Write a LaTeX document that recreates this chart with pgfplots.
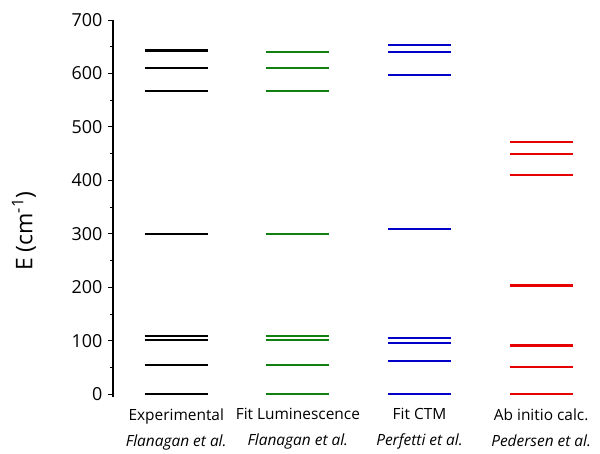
\documentclass[border=0pt]{standalone}
\usepackage{fontspec}
\setmainfont{Open Sans}
\usepackage{pgfplots}
\pgfplotsset{compat=1.18}
\definecolor{cblack}{RGB}{0,0,0}
\definecolor{cgreen}{RGB}{16,128,16}
\definecolor{cblue}{RGB}{0,0,200}
\definecolor{cred}{RGB}{230,0,0}
\begin{document}
\begin{tikzpicture}
\begin{axis}[
  scale only axis,
  width=487bp, height=377bp,
  xmin=0.48, xmax=4.484,
  ymin=-5, ymax=700,
  axis lines=left,
  axis line style={-, line width=1.3pt},
  x axis line style={draw=none},
  xtick={1,2,3,4},
  xticklabels={{Experimental\\\textit{Flanagan et al.}},{Fit Luminescence\\\textit{Flanagan et al.}},{Fit CTM\\\textit{Perfetti et al.}},{Ab initio calc.\\\textit{Pedersen et al.}}},
  xtick style={draw=none},
  xticklabel style={align=center, font=\fontsize{15.5}{26}\selectfont, yshift=-3bp},
  ytick={0,100,...,700},
  minor ytick={50,150,...,650},
  tick align=outside,
  major tick length=5bp, minor tick length=3bp,
  ytick style={line width=1pt, black},
  yticklabel style={font=\fontsize{18}{20}\selectfont, xshift=-2bp},
  /pgf/number format/assume math mode=true,
  ylabel={E (cm\textsuperscript{-1})},
  every axis y label/.style={at={(axis description cs:0,0.44)}, xshift=-89bp, rotate=90, anchor=center, font=\fontsize{23}{26}\selectfont},
  unbounded coords=jump,
  clip=false,
]
\addplot[cblack, line width=2pt] coordinates {
(0.74,0) (1.26,0) (1,nan)
(0.74,54) (1.26,54) (1,nan)
(0.74,102) (1.26,102) (1,nan)
(0.74,110) (1.26,110) (1,nan)
(0.74,299) (1.26,299) (1,nan)
(0.74,568) (1.26,568) (1,nan)
(0.74,610) (1.26,610)
};
\addplot[cblack, line width=2.8pt] coordinates {(0.74,643) (1.26,643)};
\addplot[cgreen, line width=2pt] coordinates {
(1.74,0) (2.26,0) (2,nan)
(1.74,54) (2.26,54) (2,nan)
(1.74,102) (2.26,102) (2,nan)
(1.74,110) (2.26,110) (2,nan)
(1.74,299) (2.26,299) (2,nan)
(1.74,568) (2.26,568) (2,nan)
(1.74,611) (2.26,611) (2,nan)
(1.74,641) (2.26,641)
};
\addplot[cblue, line width=2pt] coordinates {
(2.74,0) (3.26,0) (3,nan)
(2.74,63) (3.26,63) (3,nan)
(2.74,96) (3.26,96) (3,nan)
(2.74,105) (3.26,105) (3,nan)
(2.74,310) (3.26,310) (3,nan)
(2.74,597) (3.26,597) (3,nan)
(2.74,640) (3.26,640) (3,nan)
(2.74,653) (3.26,653)
};
\addplot[cred, line width=2pt] coordinates {
(3.74,0) (4.26,0) (4,nan)
(3.74,52) (4.26,52) (4,nan)
(3.74,411) (4.26,411) (4,nan)
(3.74,449) (4.26,449) (4,nan)
(3.74,472) (4.26,472)
};
\addplot[cred, line width=2.8pt] coordinates {
(3.74,92) (4.26,92) (4,nan)
(3.74,203) (4.26,203)
};
\coordinate (tl) at (rel axis cs:0,1);
\coordinate (br) at (rel axis cs:1,0);
\end{axis}
\path ([xshift=-113bp,yshift=20bp]tl) rectangle ([yshift=-52bp]br);
\end{tikzpicture}
\end{document}
